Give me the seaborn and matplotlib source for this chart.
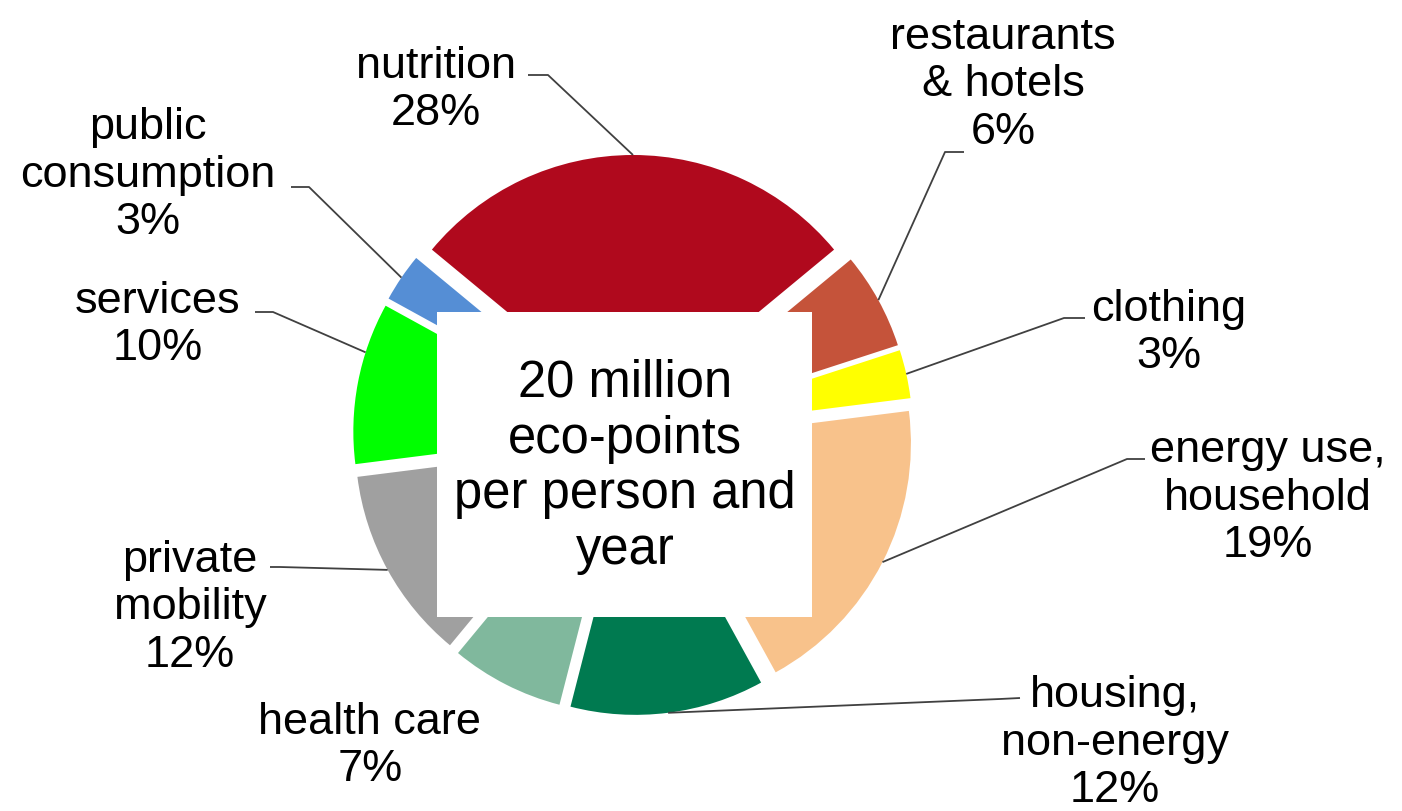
import numpy as np
import matplotlib
matplotlib.use("Agg")
import matplotlib.pyplot as plt
import matplotlib.patches as mpatches
import seaborn as sns

# data
categories = ["nutrition", "restaurants\n& hotels", "clothing", "energy use,\nhousehold",
              "housing,\nnon-energy", "health care", "private\nmobility", "services",
              "public\nconsumption"]
shares = [28, 6, 3, 19, 12, 7, 12, 10, 3]
slice_colors = ["#B0091D", "#C5533A", "#FFFF00", "#F8C28B", "#007A50",
                "#80B89D", "#A0A0A0", "#00FF00", "#558ED5"]
center_text = "20 million\neco-points\nper person and\nyear"

# layout (pixel coords, y measured from top)
W, H = 1402, 811
label_pos = [(436, 90), (1003, 85), (1169, 333), (1268, 498), (1115, 743),
             (370, 746), (190, 608), (158, 325), (148, 175)]
# leader line: text-side start, elbow; anchor is fraction of wedge angle
leader = [((528, 75), (548, 75)), ((964, 152), (945, 152)), ((1085, 318), (1064, 318)),
          ((1145, 459), (1127, 459)), ((1020, 698), (1000, 699)), None,
          ((270, 567), (280, 567)), ((255, 312), (273, 312)), ((291, 187), (309, 187))]
anchor_frac = [0.5, 0.5, 0.5, 0.5, 0.5, None, 0.5, 0.31, 0.5]


def py(y):
    return H - y


sns.set_theme(style="white")
plt.rcParams["font.family"] = ["Liberation Sans", "DejaVu Sans"]

fig = plt.figure(figsize=(W / 100, H / 100), dpi=100)
ax = fig.add_axes([0, 0, 1, 1])

cx, cy, R = 633, py(435), 261
# explode is in data units here (pixels)
wedges, _ = ax.pie(shares, colors=sns.color_palette(slice_colors), startangle=140.4,
                   counterclock=False, explode=[19] * len(shares), radius=R,
                   center=(cx, cy), wedgeprops=dict(linewidth=0))

# white box in the middle
ax.add_patch(mpatches.Rectangle((437, py(617)), 375, 305, facecolor="white",
                                edgecolor="none", zorder=3))
ax.text(625, py(467), center_text, ha="center", va="center", fontsize=36.5,
        linespacing=1.18, color="black", zorder=4)

for i, w in enumerate(wedges):
    tx, ty = label_pos[i]
    ax.text(tx, py(ty), f"{categories[i]}\n{shares[i]}%", ha="center", va="center",
            fontsize=32.5, linespacing=1.2, color="black")
    if leader[i] is None:
        continue
    t1, t2 = w.theta1, w.theta2
    ang = np.deg2rad(t1 + (t2 - t1) * anchor_frac[i])
    wx, wy = w.center
    ax_, ay_ = wx + w.r * np.cos(ang), wy + w.r * np.sin(ang)
    (sx, sy), (ex, ey) = leader[i]
    ax.plot([sx, ex, ax_], [py(sy), py(ey), ay_], color="#404040", lw=1.3,
            solid_capstyle="butt", zorder=2)

ax.set_xlim(0, W)
ax.set_ylim(0, H)
ax.set_aspect("equal")
ax.axis("off")

fig.savefig("out.png", dpi=100, facecolor="white")
